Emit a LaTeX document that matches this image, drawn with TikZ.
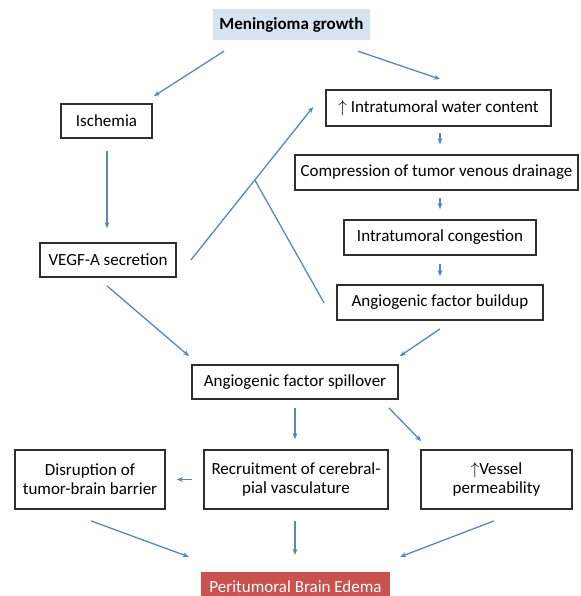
\documentclass[tikz,border=0pt]{standalone}
\usepackage{fontspec}
\setmainfont{Carlito}
\usetikzlibrary{arrows.meta,calc}
\definecolor{arrblue}{HTML}{5B86B8}
\definecolor{mgfill}{HTML}{D6E3F1}
\definecolor{perifill}{HTML}{C9524E}
\definecolor{boxline}{HTML}{2E2E2E}
\tikzset{
  box/.style={draw=boxline,line width=1.8pt,inner sep=0pt,align=center,font=\fontsize{17}{19}\selectfont},
  arr/.style={draw=arrblue,line width=1.3pt,-{Stealth[length=6pt,width=5pt]}},
  plain/.style={draw=arrblue,line width=1.3pt},
}
\begin{document}
\begin{tikzpicture}[x=1pt,y=-1pt]
\useasboundingbox (0,0) rectangle (580,596);
\clip (0,0) rectangle (580,596);
% nodes
\node[fill=mgfill,minimum width=157pt,minimum height=31pt,inner sep=0pt,font=\fontsize{17}{19}\selectfont\bfseries] (mg) at (291.5,24.5) {Meningioma growth};
\node[box,minimum width=91pt,minimum height=34pt] (isc) at (106.5,121) {Ischemia};
\node[box,minimum width=225pt,minimum height=36pt] (wat) at (438.5,108) {$\uparrow$ Intratumoral water content};
\node[box,minimum width=283pt,minimum height=35pt] (comp) at (436.5,172.5) {Compression of tumor venous drainage};
\node[box,minimum width=192pt,minimum height=35pt] (cong) at (440,237.5) {Intratumoral congestion};
\node[box,minimum width=136pt,minimum height=34pt] (vegf) at (108,260) {VEGF-A secretion};
\node[box,minimum width=206pt,minimum height=35pt] (bu) at (440,302.5) {Angiogenic factor buildup};
\node[box,minimum width=206pt,minimum height=34pt] (sp) at (295,382) {Angiogenic factor spillover};
\node[box,minimum width=150pt,minimum height=59pt] (dis) at (90,479.5) {Disruption of\\tumor-brain barrier};
\node[box,minimum width=184pt,minimum height=59pt] (rec) at (296,479.5) {Recruitment of cerebral-\\pial vasculature};
\node[box,minimum width=151pt,minimum height=59pt] (ves) at (496.5,479.5) {$\uparrow$Vessel\\permeability};
\node[fill=perifill,text=white,minimum width=189pt,minimum height=30pt,inner sep=0pt,font=\fontsize{17}{19}\selectfont] (peri) at (295.5,587) {Peritumoral Brain Edema};
% connectors
\draw[arr] ([xshift=-67.5pt,yshift=-11pt]mg.south) -- ([xshift=47.5pt,yshift=7pt]isc.north);
\draw[arr] ([xshift=66.5pt,yshift=-11pt]mg.south) -- ([xshift=1.5pt,yshift=10pt]wat.north);
\draw[arr] ([xshift=0.5pt,yshift=-12pt]isc.south) -- ([xshift=-1pt,yshift=14pt]vegf.north);
\draw[arr] ([xshift=14pt]vegf.east) -- coordinate[pos=0.523] (br) ([xshift=-12pt,yshift=1pt]wat.west);
\draw[plain] (br) -- ([xshift=-12pt,yshift=-0.5pt]bu.west);
\draw[arr] ([xshift=1.5pt,yshift=-6pt]wat.south) -- ([xshift=3.5pt,yshift=10pt]comp.north);
\draw[arr] ([xshift=3.5pt,yshift=-7pt]comp.south) -- ([yshift=10pt]cong.north);
\draw[arr] ([yshift=-8pt]cong.south) -- ([yshift=8pt]bu.north);
\draw[arr] ([xshift=-1pt,yshift=-8pt]vegf.south) -- ([xshift=-106pt,yshift=8pt]sp.north);
\draw[arr] ([yshift=-8pt]bu.south) -- ([xshift=1pt,yshift=8pt]sp.north east);
\draw[arr] ([yshift=-8pt]sp.south) -- ([xshift=-1pt,yshift=10pt]rec.north);
\draw[arr] ([xshift=-10pt,yshift=-8pt]sp.south east) -- ([xshift=1pt,yshift=8pt]ves.north west);
\draw[arr] ([xshift=-11pt]rec.west) -- ([xshift=11pt]dis.east);
\draw[arr] ([xshift=1pt,yshift=-11pt]dis.south) -- ([xshift=-12pt,yshift=15pt]peri.north west);
\draw[arr] ([xshift=-1pt,yshift=-11pt]rec.south) -- ([xshift=-0.5pt,yshift=17pt]peri.north);
\draw[arr] ([xshift=-2.5pt,yshift=-11pt]ves.south) -- ([xshift=10pt,yshift=15pt]peri.north east);
\end{tikzpicture}
\end{document}
